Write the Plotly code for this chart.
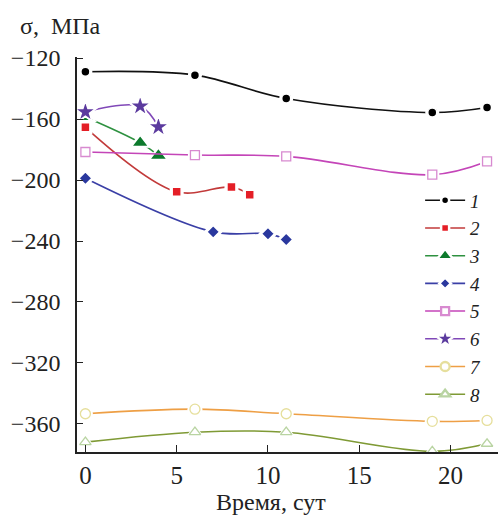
import plotly.graph_objects as go

labels = ["1", "2", "3", "4", "5", "6", "7", "8"]

x1 = [0, 6, 11, 19, 22]
y1 = [-129, -131.2, -146.5, -155.7, -152.4]
x2 = [0, 5, 8, 9]
y2 = [-165.4, -207.7, -204.6, -209.6]
x3 = [0, 3, 4]
y3 = [-158.6, -175.5, -184.0]
x4 = [0, 7, 10, 11]
y4 = [-198.8, -234.0, -235.3, -239.0]
x5 = [0, 6, 11, 19, 22]
y5 = [-181.6, -183.6, -184.5, -196.5, -187.8]
x6 = [0, 3, 4]
y6 = [-155.3, -151.6, -165.2]
x7 = [0, 6, 11, 19, 22]
y7 = [-353.3, -350.3, -353.3, -358.3, -357.7]
x8 = [0, 6, 11, 19, 22]
y8 = [-371.9, -365.4, -365.4, -378.0, -373.0]

x_ticks = [0, 5, 10, 15, 20]
y_ticks = [-360, -320, -280, -240, -200, -160, -120]
y_ticktext = ["\u2212360", "\u2212320", "\u2212280", "\u2212240", "\u2212200", "\u2212160", "\u2212120"]

xs = [x1, x2, x3, x4, x5, x6, x7, x8]
ys = [y1, y2, y3, y4, y5, y6, y7, y8]

line_colors = ["#111111", "#c23a3a", "#2e9140", "#3a3fa6", "#c445b8", "#8048b8", "#ee9f45", "#7f9a35"]
marker_fill = ["#000000", "#e41e26", "#0c7a2c", "#2a389e", "#ffffff", "#5b3a9e", "#ffffff", "#ffffff"]
marker_edge = ["#ffffff", "#ffffff", "#ffffff", "#ffffff", "#d88ad0", "#ffffff", "#e6df9c", "#b9d4a2"]
symbols = ["circle", "square", "triangle-up", "diamond", "square", "star", "circle", "triangle-up"]
sizes = [9, 9, 15, 10, 9, 16, 10, 10]
edge_w = [1.5, 1.5, 1.5, 1.5, 1.3, 1.5, 1.3, 1.3]

fig = go.Figure()
for i in range(8):
    fig.add_trace(go.Scatter(
        x=xs[i], y=ys[i], mode="lines+markers",
        line=dict(color=line_colors[i], width=1.6, shape="spline", smoothing=1.0),
        marker=dict(symbol=symbols[i], size=sizes[i] + 5, color="#ffffff", line=dict(width=0)),
        showlegend=False, hoverinfo="skip"))
    fig.add_trace(go.Scatter(
        x=xs[i], y=ys[i], mode="markers",
        marker=dict(symbol=symbols[i], size=sizes[i], color=marker_fill[i],
                    line=dict(color=marker_edge[i], width=edge_w[i])),
        showlegend=False))
for i in range(8):
    fig.add_trace(go.Scatter(
        x=[None], y=[None], mode="lines+markers", name=labels[i],
        line=dict(color=line_colors[i], width=1.6),
        marker=dict(symbol=symbols[i], size=sizes[i] - 1, color=marker_fill[i],
                    line=dict(color=marker_edge[i], width=edge_w[i] + 1)),
        showlegend=True))

serif = "Liberation Serif"

pw, ph = 500 - 77 - 2, 516 - 57 - 64

fig.update_layout(
    width=500, height=516,
    margin=dict(l=77, r=2, t=57, b=64),
    paper_bgcolor="white", plot_bgcolor="white",
    font=dict(family=serif, color="#222222"),
    showlegend=True,
    legend=dict(x=0.815, y=0.685, xanchor="left", yanchor="top",
                font=dict(family=serif, size=19, style="italic", color="#222222"),
                bgcolor="rgba(0,0,0,0)", tracegroupgap=0, itemwidth=40),
    xaxis=dict(range=[-0.46, 22.6], tickvals=x_ticks, ticks="inside", ticklen=7,
               tickcolor="#222222", tickwidth=1.3, showline=True, linecolor="#222222", linewidth=1.6,
               showgrid=False, zeroline=False, tickfont=dict(size=25, family=serif),
               ticklabelstandoff=0),
    yaxis=dict(range=[-378.4, -119.3], tickvals=y_ticks, ticktext=y_ticktext, ticks="inside",
               ticklen=6, tickcolor="#222222", tickwidth=1.3, showline=True, linecolor="#222222",
               linewidth=1.6, showgrid=False, zeroline=False, tickfont=dict(size=24, family=serif),
               ticklabelstandoff=10),
)
fig.add_annotation(text="σ,\u00a0\u00a0МПа", xref="paper", yref="paper",
                   x=(18 - 77) / pw, y=(452 - 26) / ph, xanchor="left", yanchor="middle",
                   showarrow=False, font=dict(size=24, family=serif))
fig.add_annotation(text="Время, сут", xref="paper", yref="paper",
                   x=(271 - 77) / pw, y=(452 - 502) / ph, xanchor="center", yanchor="middle",
                   showarrow=False, font=dict(size=24, family=serif))

fig.write_html("out.html", config={"displayModeBar": False},
               post_script="document.body.style.margin='0px';document.body.style.padding='0px';")
